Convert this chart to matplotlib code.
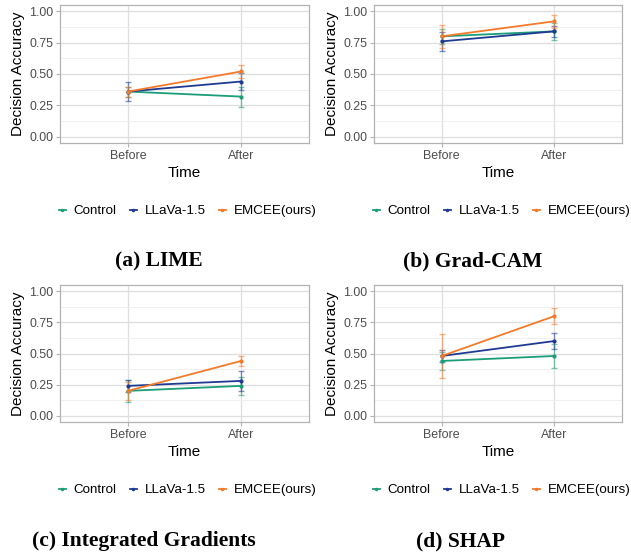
import matplotlib
matplotlib.use("Agg")
import matplotlib.pyplot as plt
from matplotlib.lines import Line2D
import numpy as np

times = ["Before", "After"]
groups = ["Control", "LLaVa-1.5", "EMCEE(ours)"]
colors = ["#1b9e77", "#1f3a93", "#f47a2a"]

panel_titles = ["(a) LIME", "(b) Grad-CAM", "(c) Integrated Gradients", "(d) SHAP"]

# means [group][time]
lime_mean = [[0.36, 0.32], [0.36, 0.44], [0.36, 0.52]]
lime_err = [[0.04, 0.08], [0.075, 0.07], [0.04, 0.05]]
gradcam_mean = [[0.80, 0.84], [0.76, 0.84], [0.80, 0.92]]
gradcam_err = [[0.06, 0.07], [0.075, 0.045], [0.09, 0.05]]
ig_mean = [[0.20, 0.24], [0.24, 0.28], [0.20, 0.44]]
ig_err = [[0.09, 0.07], [0.05, 0.08], [0.07, 0.04]]
shap_mean = [[0.44, 0.48], [0.48, 0.60], [0.48, 0.80]]
shap_err = [[0.07, 0.10], [0.05, 0.065], [0.18, 0.065]]

means = [lime_mean, gradcam_mean, ig_mean, shap_mean]
errs = [lime_err, gradcam_err, ig_err, shap_err]

W, H = 631, 554
fig = plt.figure(figsize=(W / 100, H / 100), dpi=100)

# axes boxes in pixels: (left, top, right, bottom)
boxes = [(60, 5, 309, 143), (374, 5, 622, 143), (60, 285, 309, 422), (374, 285, 622, 422)]
title_pos = [(159, 261), (473, 261), (144, 541), (461, 541)]
sans = ["Liberation Sans", "DejaVu Sans"]

for k in range(4):
    l, t, r, b = boxes[k]
    ax = fig.add_axes([l / W, 1 - b / H, (r - l) / W, (b - t) / H])
    x = np.arange(len(times))
    for g in range(3):
        ax.errorbar(x, means[k][g], yerr=errs[k][g], color=colors[g], lw=0,
                    elinewidth=1.0, capsize=2, capthick=1.0, alpha=0.55, zorder=3)
        ax.plot(x, means[k][g], color=colors[g], lw=1.3, marker="o", ms=2.0, zorder=4)
    ax.set_xlim(-0.6, 1.6)
    ax.set_ylim(-0.05, 1.05)
    ax.set_xticks(x)
    ax.set_xticklabels(times)
    ax.set_yticks([0, 0.25, 0.5, 0.75, 1.0])
    ax.set_yticklabels(["0.00", "0.25", "0.50", "0.75", "1.00"])
    ax.set_yticks([0.125, 0.375, 0.625, 0.875], minor=True)
    ax.grid(True, which="major", color="#dedede", lw=0.9, zorder=0)
    ax.grid(True, which="minor", axis="y", color="#eeeeee", lw=0.6, zorder=0)
    ax.set_axisbelow(True)
    for s in ax.spines.values():
        s.set_color("#b3b3b3")
        s.set_linewidth(0.9)
    ax.tick_params(axis="both", which="major", colors="#b3b3b3", length=3, width=0.8,
                   labelcolor="#4d4d4d", labelsize=8.9, pad=2)
    ax.tick_params(axis="y", which="minor", length=0)
    for lab in ax.get_xticklabels() + ax.get_yticklabels():
        lab.set_family(sans)
    ax.set_xlabel("Time", fontsize=11, family=sans, labelpad=3)
    ax.set_ylabel("Decision Accuracy", fontsize=11, family=sans, labelpad=3)

    handles = [Line2D([0], [0], color=colors[g], lw=1.3, marker="o", ms=1.5) for g in range(3)]
    ax.legend(handles, groups, loc="center left", ncol=3, frameon=False,
              bbox_to_anchor=((l - 1) / W, 1 - (b + 68) / H), bbox_transform=fig.transFigure,
              prop={"family": sans, "size": 9.6}, handlelength=0.5, handletextpad=0.6,
              columnspacing=1.0, borderpad=0, borderaxespad=0)

    tx, ty = title_pos[k]
    fig.text(tx / W, 1 - ty / H, panel_titles[k], ha="center", va="center",
             fontsize=15.5, fontweight="bold", family=["Liberation Serif", "DejaVu Serif"])

fig.savefig("out.png", dpi=100)
